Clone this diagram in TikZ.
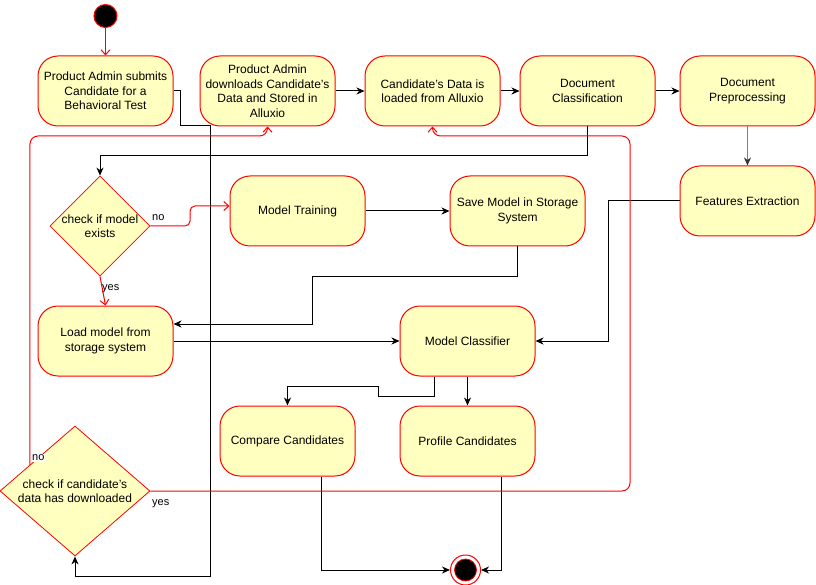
\documentclass[tikz,border=0pt]{standalone}
\usepackage{fontspec}
\setmainfont{Liberation Sans}
\usetikzlibrary{shapes.geometric,arrows.meta,calc}
\definecolor{actfill}{HTML}{FFFFC0}
\definecolor{actline}{HTML}{FF0000}

\begin{document}
\begin{tikzpicture}[x=1pt,y=-1pt,
  font=\fontsize{12}{14.5}\selectfont,
  activity/.style={draw=actline, fill=actfill, rounded corners=20pt,
    minimum width=135pt, minimum height=70pt, align=center, inner sep=2pt, line width=1pt},
  decision/.style={draw=actline, fill=actfill, diamond, inner sep=0pt, line width=0.8pt},
  dlabel/.style={align=center, font=\fontsize{12}{14.5}\selectfont},
  flow/.style={draw=black, line width=1pt, -{Stealth[length=8pt,width=7pt,inset=2.5pt]}},
  guard/.style={draw=actline, line width=1pt, -{Straight Barb[length=5pt,width=9pt]}},
  lbl/.style={font=\fontsize{11}{13}\selectfont, inner sep=1pt}
]
\useasboundingbox (0,0) rectangle (816,585);

% initial and final states
\node[circle, draw=actline, fill=black, minimum size=23pt, inner sep=0pt, line width=1pt] (st) at (105.5,16) {};
\node[circle, draw=actline, fill=white, minimum size=30pt, inner sep=0pt, line width=1pt] (en) at (465.5,570) {};
\node[circle, draw=actline, fill=black, minimum size=22pt, inner sep=0pt, line width=0.8pt] (enc) at (en.center) {};

% top row
\node[activity] (a1) at (105.5,91) {Product Admin submits\\Candidate for a\\Behavioral Test};
\node[activity] (a2) at (267.5,91) {Product Admin\\downloads Candidate's\\Data and Stored in\\Alluxio};
\node[activity] (a3) at (432.5,91) {Candidate's Data is\\loaded from Alluxio};
\node[activity] (a4) at (587.5,91) {Document\\Classification};
\node[activity] (a5) at (747.5,91) {Document\\Preprocessing};

% middle
\node[activity] (fe) at (747.5,201) {Features Extraction};
\node[activity] (mt) at (297.5,211) {Model Training};
\node[activity] (sm) at (517.5,211) {Save Model in Storage\\System};
\node[activity] (lm) at (105.5,341) {Load model from\\storage system};
\node[activity] (mc) at (467.5,341) {Model Classifier};
\node[activity] (cc) at (287.5,441) {Compare Candidates};
\node[activity] (pc) at (467.5,441) {Profile Candidates};

% decisions
\node[decision, minimum width=100pt, minimum height=100pt] (d1) at (100,226) {};
\node[dlabel] (d1t) at (d1.center) {check if model\\exists};
\node[decision, minimum width=150pt, minimum height=130pt] (d2) at (75,491) {};
\node[dlabel] (d2t) at (d2.center) {check if candidate's\\data has downloaded};

% connectors
\draw[guard] (st) -- (a1);
\draw[flow] (a1.east) -- (180,91) -- (180,126) -- (210,126) -- (210,576) -- (75,576) -- (d2.south);
\draw[flow] (a2) -- (a3);
\draw[flow] (a3) -- (a4);
\draw[flow] (a4) -- (a5);
\draw[draw=gray, line width=1.6pt, -{Stealth[length=8pt,width=7pt,inset=2.5pt,color=black!80]}] (a5) -- (fe);
\draw[flow] (a4.south) -- (587.5,156) -- (100,156) -- (d1.north);

\draw[guard, rounded corners=5pt] (d1.east) -- (190,226) -- (190,206) -- ([yshift=5pt]mt.west);
\node[lbl, anchor=west] (no1) at (151,218) {no};
\draw[guard] (d1.south) -- (lm.north);
\node[lbl, anchor=west] (yes1) at (101,289) {yes};

\draw[flow] (mt) -- (sm);
\draw[flow] (sm.south) -- (517.5,276) -- (312,276) -- (312,324) -- ([yshift=17pt]lm.east);
\draw[flow] (lm) -- (mc);
\draw[flow] (fe.west) -- (608,201) -- (608,341) -- (mc.east);
\draw[flow] ([xshift=-33.5pt]mc.south) -- (434,396) -- (378,396) -- (378,386) -- (287.5,386) -- (cc.north);
\draw[flow] (mc) -- (pc);
\draw[flow] ([xshift=33.5pt]cc.south) -- (321,570) -- (en.west);
\draw[flow] ([xshift=33.5pt]pc.south) -- (501,570) -- (en.east);

% loop back from the download check
\draw[guard] (d2.east) [rounded corners=8pt] -- (630,491) -- (630,136) -- (432.5,136) [sharp corners] -- (a3.south);
\node[lbl, anchor=west] (yes2) at (151,504) {yes};
\draw[guard] ($(d2.west)!0.4!(d2.north)$) [rounded corners=8pt] -- (30,136) -- (267.5,136) [sharp corners] -- (a2.south);
\node[lbl, anchor=west, fill=white] (no2) at (31,458) {no};

\end{tikzpicture}
\end{document}
